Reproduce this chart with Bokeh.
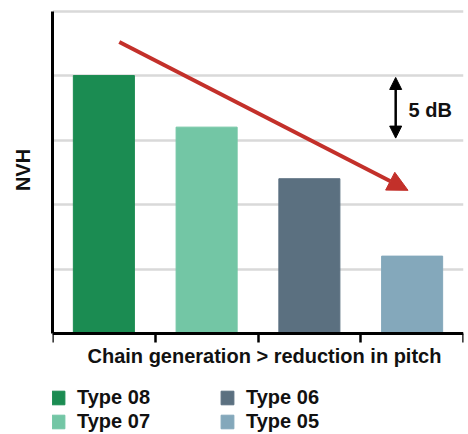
from bokeh.plotting import figure
from bokeh.models import (ColumnDataSource, Legend, LegendItem, Arrow, NormalHead,
                          Label, FixedTicker, Range1d)
from bokeh.embed import file_html
from bokeh.resources import INLINE

# ---- data ----
types = ["Type 08", "Type 07", "Type 06", "Type 05"]
nvh = [20.0, 16.0, 12.0, 6.0]
colors = ["#1b8c52", "#73c6a5", "#5b7080", "#84a8bb"]
grid_values = [5, 10, 15, 20, 25]
category_edges = [0, 1, 2, 3, 4]
x_title = "Chain generation > reduction in pitch"
y_title = "NVH"
step_text = "5 dB"

# annotation anchors (data units)
trend_start = (0.65, 22.6)
trend_end = (3.46, 11.1)
step_x = 3.34
step_from, step_to = 19.85, 15.15
step_label_pos = (3.465, 17.33)
x_title_pos = (2.063, -1.78)

FONT = "Liberation Sans"
TXT = "#111111"
RED = "#c3302a"

centers = [i + 0.5 for i in range(len(types))]
src = ColumnDataSource(dict(x=centers, top=nvh, color=colors, label=types))

p = figure(width=468, height=434, x_range=Range1d(0, 4), y_range=Range1d(-7.83, 25.43),
           x_axis_location="above",
           output_backend="svg", toolbar_location=None,
           min_border_left=52, min_border_right=5, min_border_top=5, min_border_bottom=0)
p.outline_line_color = None
p.background_fill_color = "white"

r = p.vbar(x="x", top="top", width=0.594, bottom=0, color="color", source=src)

# grid
p.xgrid.grid_line_color = None
p.ygrid.ticker = FixedTicker(ticks=grid_values)
p.ygrid.grid_line_color = "#d9d9d9"
p.ygrid.grid_line_width = 2.5

# x axis: baseline at y = 0 with ticks hanging down at the category edges
xa = p.xaxis[0]
xa.fixed_location = 0
xa.ticker = FixedTicker(ticks=category_edges)
xa.major_tick_in = 9
xa.major_tick_out = 0
xa.minor_tick_out = 0
xa.minor_tick_in = 0
xa.major_tick_line_width = 2.5
xa.major_tick_line_color = "black"
xa.axis_line_width = 3
xa.axis_line_color = "black"
xa.major_label_overrides = {t: "" for t in category_edges}
xa.major_label_text_font_size = "4px"
xa.major_label_standoff = 0

p.add_layout(Label(x=x_title_pos[0], y=x_title_pos[1], text=x_title,
                   text_font=FONT, text_font_style="bold", text_font_size="20px",
                   text_color=TXT, text_align="center", text_baseline="middle"))

# y axis
ya = p.yaxis[0]
ya.ticker = FixedTicker(ticks=[])
ya.bounds = (0, 25)
ya.major_tick_out = 0
ya.major_tick_in = 0
ya.minor_tick_out = 0
ya.minor_tick_in = 0
ya.axis_line_width = 3
ya.axis_line_color = "black"
ya.major_label_standoff = 0
# the label is centred on the whole frame; non-breaking spaces lift it to the value range's middle
ya.axis_label = "\u00a0" * 18 + y_title
ya.axis_label_text_font = FONT
ya.axis_label_text_font_style = "bold"
ya.axis_label_text_font_size = "20px"
ya.axis_label_text_color = TXT
ya.axis_label_standoff = 19

# trend arrow
p.add_layout(Arrow(end=NormalHead(size=20, fill_color=RED, line_color=RED),
                   x_start=trend_start[0], y_start=trend_start[1],
                   x_end=trend_end[0], y_end=trend_end[1],
                   line_color=RED, line_width=4))

# 5 dB double arrow
p.add_layout(Arrow(start=NormalHead(size=12, fill_color="black", line_color="black"),
                   end=NormalHead(size=12, fill_color="black", line_color="black"),
                   x_start=step_x, y_start=step_from, x_end=step_x, y_end=step_to,
                   line_color="black", line_width=2.5))
p.add_layout(Label(x=step_label_pos[0], y=step_label_pos[1], text=step_text,
                   text_font=FONT, text_font_style="bold", text_font_size="20px",
                   text_color=TXT, text_baseline="middle"))

# legend: 2 x 2
items = [LegendItem(label=t, renderers=[r], index=i) for i, t in enumerate(types)]
leg = Legend(items=items, ncols=2, orientation="vertical", location=(-2, 1.5),
             glyph_width=16, glyph_height=17, label_standoff=11, label_width=141,
             label_height=17, spacing=1, padding=0, margin=0,
             border_line_color=None, background_fill_alpha=0,
             label_text_font=FONT, label_text_font_style="bold",
             label_text_font_size="20px", label_text_color=TXT)
p.add_layout(leg, "center")

open("out.html", "w").write(file_html(p, INLINE))
